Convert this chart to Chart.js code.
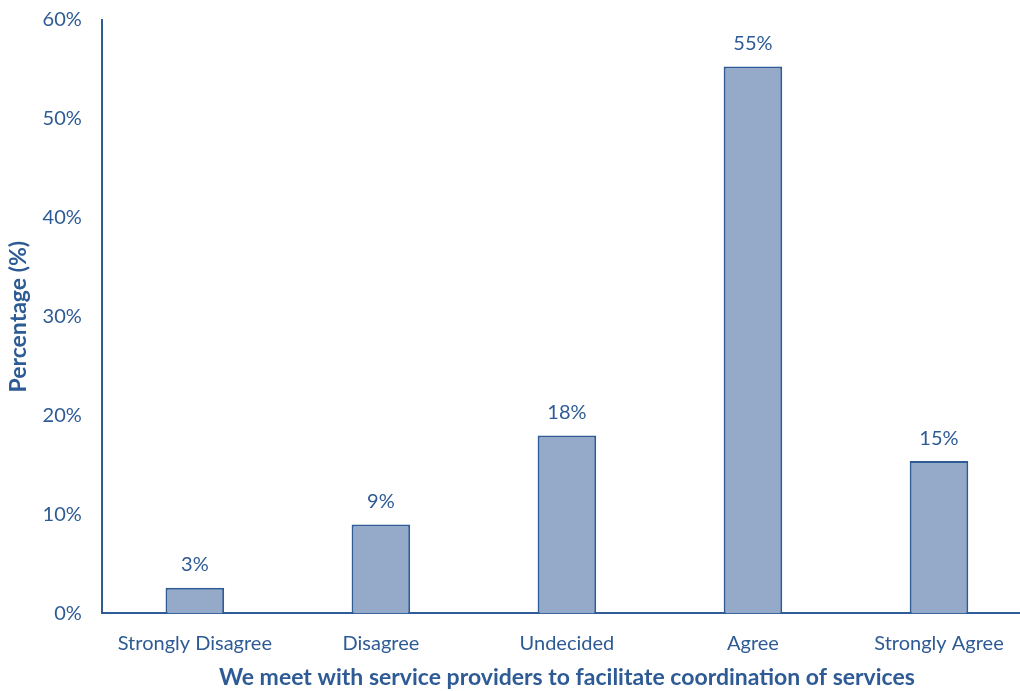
<!DOCTYPE html>
<html>
<head>
<meta charset="utf-8">
<script src="https://cdn.jsdelivr.net/npm/chart.js@4"></script>
<style>
    html, body { margin: 0; padding: 0; background: #fff; overflow: hidden; }
    #wrap { width: 1020px; height: 691px; overflow: hidden; }
    #box { width: 1032px; height: 703px; margin-top: -12px; }
</style>
</head>
<body>
<div id="wrap"><div id="box"><canvas id="chart"></canvas></div></div>
<script>
// data
const categories = ['Strongly Disagree', 'Disagree', 'Undecided', 'Agree', 'Strongly Agree'];
const percentValues = [2.6, 9.0, 18.0, 55.3, 15.4];
const valueLabels = ['3%', '9%', '18%', '55%', '15%'];
const yTicks = [0, 10, 20, 30, 40, 50, 60];

const textColor = '#2E5B95';
const fontName = 'Lato, "Open Sans", sans-serif';

// labels above each bar
const barLabels = {
    id: 'barLabels',
    afterDatasetsDraw(chart) {
        const ctx = chart.ctx;
        const meta = chart.getDatasetMeta(0);
        ctx.save();
        ctx.fillStyle = textColor;
        ctx.font = '20px ' + fontName;
        ctx.textAlign = 'center';
        ctx.textBaseline = 'middle';
        meta.data.forEach((bar, i) => {
            ctx.fillText(valueLabels[i], bar.x, bar.y - 23);
        });
        ctx.restore();
    }
};

const ctx = document.getElementById('chart').getContext('2d');
new Chart(ctx, {
    type: 'bar',
    data: {
        labels: categories,
        datasets: [{
            data: percentValues,
            backgroundColor: '#95AAC8',
            borderColor: '#2F5C97',
            borderWidth: 2,
            categoryPercentage: 1,
            barPercentage: 0.315
        }]
    },
    options: {
        responsive: true,
        maintainAspectRatio: false,
        animation: false,
        layout: { padding: { top: 0, left: 0, right: 0, bottom: 0 } },
        plugins: {
            legend: { display: false },
            tooltip: { enabled: false }
        },
        scales: {
            x: {
                grid: { display: false, drawTicks: false },
                border: { display: true, color: '#2F5C97', width: 2 },
                ticks: {
                    color: textColor,
                    font: { family: fontName, size: 20 },
                    padding: 18,
                    maxRotation: 0
                },
                title: {
                    display: true,
                    text: 'We meet with service providers to facilitate coordination of services',
                    color: textColor,
                    font: { family: fontName, size: 23, weight: 'bold' },
                    padding: { top: -10, bottom: 0 }
                }
            },
            y: {
                min: 0,
                max: 60,
                afterBuildTicks: axis => { axis.ticks = yTicks.map(v => ({ value: v })); },
                grid: { display: false, drawTicks: false },
                border: { display: true, color: '#2F5C97', width: 2 },
                ticks: {
                    color: textColor,
                    font: { family: fontName, size: 20 },
                    padding: 20,
                    callback: v => v + '%'
                },
                title: {
                    display: true,
                    text: 'Percentage (%)',
                    color: textColor,
                    font: { family: fontName, size: 23, weight: 'bold' },
                    padding: { top: 5, bottom: -10 }
                }
            }
        }
    },
    plugins: [barLabels]
});
</script>
</body>
</html>
